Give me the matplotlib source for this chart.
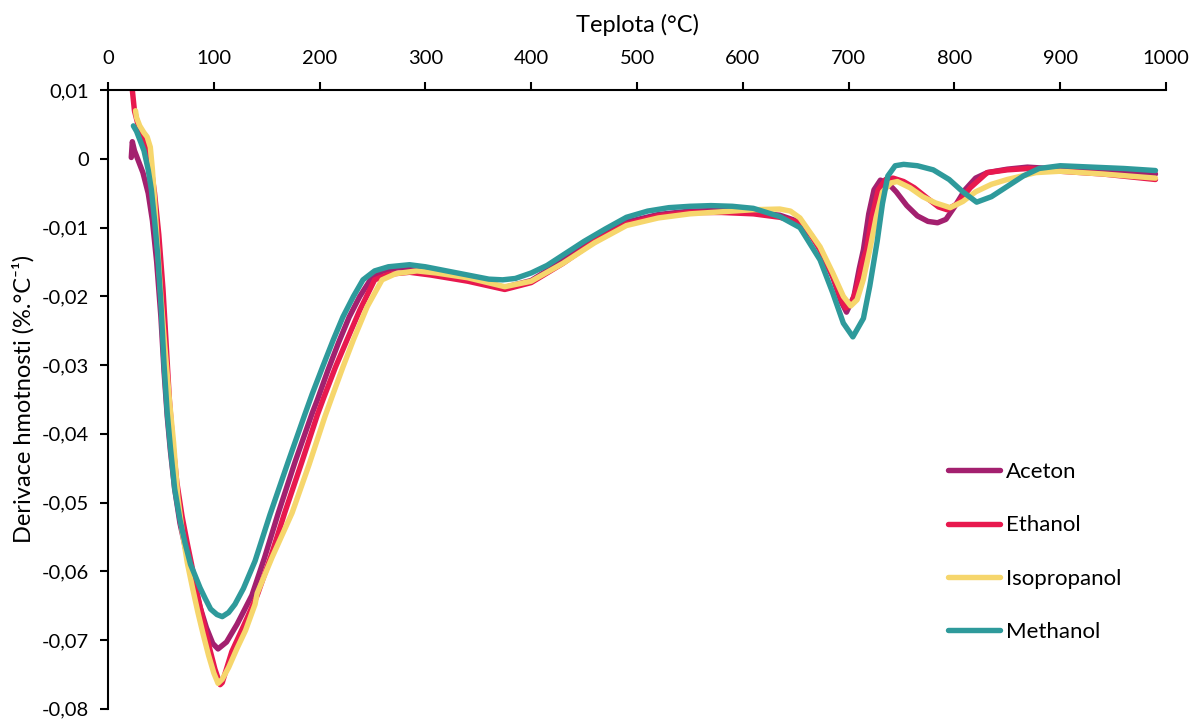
import numpy as np
import matplotlib
matplotlib.use("Agg")
import matplotlib.pyplot as plt
from matplotlib.ticker import FuncFormatter, MultipleLocator

plt.rcParams['font.family'] = ['Lato', 'DejaVu Sans']

# Aceton
t_aceton = [22, 23, 25, 28, 33, 38, 42, 46, 50, 53, 56, 59, 63, 68, 73, 77, 82, 87, 93, 99,
            104, 112, 122, 136, 148, 161, 177, 193, 198, 208, 218, 228, 238, 248, 260,
            275, 290, 320, 350, 375, 400, 430, 460, 490, 520, 550, 580, 610, 635, 654, 665,
            673, 685, 693, 698, 705, 710, 714, 719, 724, 730, 737, 745, 755, 765, 775, 784,
            792, 800, 810, 820, 831, 850, 869, 900, 950, 990]
d_aceton = [0.0002, 0.0025, 0.0012, 0.0000, -0.0020, -0.0050, -0.0090, -0.0150, -0.0230,
            -0.0310, -0.0375, -0.0425, -0.0480, -0.0530, -0.0565, -0.0590, -0.0622, -0.0652,
            -0.0682, -0.0705, -0.0713, -0.0703, -0.0677, -0.0635, -0.0580, -0.0515, -0.0440,
            -0.0370, -0.0350, -0.0307, -0.0267, -0.0230, -0.0200, -0.0176, -0.0163,
            -0.0158, -0.0158, -0.0168, -0.0178, -0.0187, -0.0177, -0.0148, -0.0118, -0.0092,
            -0.0081, -0.0076, -0.0075, -0.0078, -0.0082, -0.0092, -0.0112, -0.0132, -0.0172,
            -0.0208, -0.0223, -0.0200, -0.0160, -0.0132, -0.0080, -0.0045, -0.0031, -0.0035,
            -0.0048, -0.0068, -0.0083, -0.0091, -0.0093, -0.0088, -0.0070, -0.0045, -0.0028,
            -0.0020, -0.0015, -0.0012, -0.0015, -0.0018, -0.0022]

# Ethanol
t_ethanol = [23, 24, 25, 28, 32, 36, 40, 44, 48, 52, 55, 58, 61, 65, 70, 75, 79, 84, 90, 96,
             101, 106, 108, 117, 128, 141, 154, 167, 183, 198, 204, 215, 226, 238,
             252, 265, 285, 305, 340, 375, 400, 430, 460, 490, 520, 550, 580, 610, 635, 654,
             665, 673, 685, 693, 697, 703, 708, 713, 717, 722, 728, 735, 742, 752, 762, 775,
             785, 793, 803, 815, 831, 850, 870, 900, 940, 990]
d_ethanol = [0.0100, 0.0085, 0.0070, 0.0052, 0.0038, 0.0022, -0.0005, -0.0050, -0.0110,
             -0.0190, -0.0270, -0.0350, -0.0410, -0.0470, -0.0520, -0.0560, -0.0590, -0.0630,
             -0.0672, -0.0712, -0.0742, -0.0765, -0.0762, -0.0717, -0.0680, -0.0635, -0.0578,
             -0.0515, -0.0442, -0.0372, -0.0347, -0.0303, -0.0263, -0.0220,
             -0.0176, -0.0168, -0.0165, -0.0169, -0.0178, -0.0190, -0.0180, -0.0152, -0.0120,
             -0.0095, -0.0083, -0.0078, -0.0078, -0.0080, -0.0085, -0.0093, -0.0112, -0.0132,
             -0.0170, -0.0205, -0.0217, -0.0210, -0.0185, -0.0150, -0.0132, -0.0085, -0.0045,
             -0.0030, -0.0028, -0.0033, -0.0042, -0.0058, -0.0070, -0.0074, -0.0065, -0.0042,
             -0.0020, -0.0016, -0.0014, -0.0018, -0.0022, -0.0030]

# Isopropanol
t_isoprop = [26, 27, 30, 34, 37, 40, 42, 44, 47, 50, 54, 58, 62, 66, 70, 75, 80, 85, 90, 95,
             100, 104, 108, 114, 122, 130, 139, 141, 155, 174, 190, 205, 212, 222, 232,
             245, 259, 272, 292, 310, 340, 375, 400, 430, 460, 490, 520, 550, 580, 610, 635,
             645, 654, 673, 685, 695, 702, 708, 714, 720, 726, 732, 740, 746, 758, 770, 782,
             796, 808, 820, 835, 850, 877, 900, 940, 990]
d_isoprop = [0.0070, 0.0060, 0.0048, 0.0038, 0.0032, 0.0017, -0.0016, -0.0060, -0.0132,
             -0.0200, -0.0278, -0.0350, -0.0413, -0.0492, -0.0540, -0.0588, -0.0625, -0.0660,
             -0.0692, -0.0722, -0.0748, -0.0763, -0.0757, -0.0740, -0.0712, -0.0686, -0.0648,
             -0.0632, -0.0580, -0.0515, -0.0445, -0.0375, -0.0345, -0.0303, -0.0263,
             -0.0215, -0.0176, -0.0167, -0.0163, -0.0166, -0.0173, -0.0186, -0.0178, -0.0152,
             -0.0122, -0.0097, -0.0086, -0.0080, -0.0077, -0.0074, -0.0073, -0.0076, -0.0086,
             -0.0128, -0.0166, -0.0200, -0.0214, -0.0205, -0.0175, -0.0132, -0.0085, -0.0048,
             -0.0035, -0.0033, -0.0042, -0.0055, -0.0064, -0.0071, -0.0062, -0.0048, -0.0037,
             -0.0030, -0.0020, -0.0018, -0.0022, -0.0028]

# Methanol
t_methanol = [24, 27, 30, 34, 38, 41, 44, 47, 50, 53, 56, 59, 63, 68, 73, 78, 82, 87, 92, 97,
              103, 108, 114, 120, 128, 139, 153, 170, 186, 193, 203, 213, 222, 232, 241,
              252, 265, 285, 300, 320, 340, 360, 373, 385, 400, 415, 430, 450, 470, 490, 510,
              530, 550, 570, 590, 610, 635, 654, 673, 685, 695, 704, 714, 720, 727, 732, 737,
              744, 752, 765, 780, 795, 808, 821, 835, 850, 865, 880, 900, 930, 960, 990]
d_methanol = [0.0048, 0.0040, 0.0028, 0.0012, -0.0016, -0.0045, -0.0089, -0.0140, -0.0210,
              -0.0300, -0.0370, -0.0420, -0.0480, -0.0525, -0.0560, -0.0590, -0.0605, -0.0624,
              -0.0640, -0.0655, -0.0663, -0.0666, -0.0660, -0.0648, -0.0625, -0.0585, -0.0518,
              -0.0442, -0.0372, -0.0342, -0.0302, -0.0263, -0.0230, -0.0200, -0.0176,
              -0.0163, -0.0157, -0.0154, -0.0157, -0.0163, -0.0169, -0.0175, -0.0176, -0.0174,
              -0.0166, -0.0155, -0.0140, -0.0120, -0.0102, -0.0085, -0.0076, -0.0071, -0.0069,
              -0.0068, -0.0069, -0.0072, -0.0084, -0.0100, -0.0147, -0.0195, -0.0239, -0.0259,
              -0.0232, -0.0185, -0.0120, -0.0065, -0.0025, -0.0010, -0.0008, -0.0010, -0.0016,
              -0.0030, -0.0048, -0.0063, -0.0055, -0.0040, -0.0025, -0.0014, -0.0010, -0.0012,
              -0.0014, -0.0017]

series = [
    ("Aceton", t_aceton, d_aceton, "#A3206F"),
    ("Ethanol", t_ethanol, d_ethanol, "#E8194E"),
    ("Isopropanol", t_isoprop, d_isoprop, "#F6D66C"),
    ("Methanol", t_methanol, d_methanol, "#2E9A9B"),
]

fig = plt.figure(figsize=(12, 7.21), dpi=100)
ax = fig.add_axes([0.09, 0.017, 0.8817, 0.858])

for name, t, d, c in series:
    ax.plot(t, d, color=c, lw=3.9, label=name, solid_capstyle='round', solid_joinstyle='round')

ax.set_xlim(0, 1000)
ax.set_ylim(-0.08, 0.01)
ax.xaxis.set_major_locator(MultipleLocator(100))
ax.yaxis.set_major_locator(MultipleLocator(0.01))

def fmt_y(v, pos):
    if abs(v) < 1e-9:
        return "0"
    return f"{v:.2f}".replace(".", ",")

ax.yaxis.set_major_formatter(FuncFormatter(fmt_y))

ax.xaxis.tick_top()
ax.xaxis.set_label_position('top')
for s in ['right', 'bottom']:
    ax.spines[s].set_visible(False)
for s in ['top', 'left']:
    ax.spines[s].set_linewidth(1.5)
ax.tick_params(axis='both', direction='out', length=5.8, width=1.5, labelsize=14.5, color='black')
ax.tick_params(axis='x', pad=11)
ax.tick_params(axis='y', pad=8)

ax.set_xlabel("Teplota (°C)", fontsize=17, labelpad=13)
ax.set_ylabel("Derivace hmotnosti (%.°C⁻¹)", fontsize=17, labelpad=5)

ax.legend(loc='center left', bbox_to_anchor=(948 / 1200, 1 - 552 / 721),
          bbox_transform=fig.transFigure, frameon=False, fontsize=16,
          handlelength=2.35, handletextpad=0.25, labelspacing=1.5,
          borderpad=0, borderaxespad=0)

fig.savefig("out.png", dpi=100)
